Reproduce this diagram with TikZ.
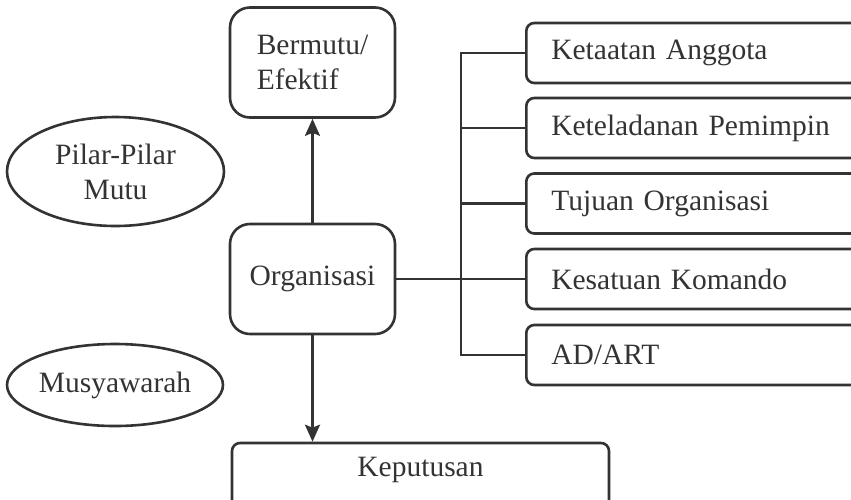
\documentclass[tikz,border=0pt]{standalone}
\usepackage{fontspec}
\setmainfont{Liberation Serif}
\usetikzlibrary{arrows.meta,shapes.geometric}
\definecolor{ink}{HTML}{333333}
\tikzset{
    > = {Stealth[length=17pt, width=15pt, inset=3pt]},
    txt/.style = {text=ink, font=\fontsize{29.5}{35}\selectfont},
    box/.style = {draw=ink, line width=2.6pt, rounded corners=8pt, txt},
    bigbox/.style = {box, rounded corners=20pt, minimum width=165pt, minimum height=110pt, align=left},
    item/.style = {box, anchor=west, text width=290pt, inner xsep=25pt, align=left, minimum height=60pt},
    oval/.style = {ellipse, draw=ink, line width=2.6pt, txt, inner sep=0pt, align=center},
    link/.style = {draw=ink, line width=2.6pt}
}
\begin{document}
\begin{tikzpicture}[x=1pt, y=-1pt]
    \useasboundingbox (0,0) rectangle (851,499);

    \node[bigbox] (mutu) at (312.5, 62.5) {Bermutu/\\Efektif};
    \node[bigbox] (org) at (312.5, 279) {Organisasi};
    % box runs past the lower edge of the page
    \node[box, minimum width=377pt, minimum height=70pt, text depth=22.5pt] (kep) at (420.5, 478) {Keputusan};

    \node[oval, minimum width=217pt, minimum height=109pt] (pilar) at (115.5, 171.5) {Pilar-Pilar\\Mutu};
    \node[oval, minimum width=216pt, minimum height=82pt] (musy) at (115, 385) {Musyawarah};

    \node[item] (taat) at (525, 53) {Ketaatan Anggota};
    \node[item] (teladan) at (525, 128) {Keteladanan Pemimpin};
    \node[item] (tujuan) at (525, 203.5) {Tujuan Organisasi};
    \node[item] (kes) at (525, 279) {Kesatuan Komando};
    \node[item] (adart) at (525, 355) {AD/ART};

    \coordinate (spine) at (461, 0);

    \draw[link, ->] (org) -- (mutu);
    \draw[link, ->] (org.south) -- (org.south |- kep.north);
    \draw[link] (org) -- (kes);
    \draw[link] (taat.west) -- (taat.west -| spine) -- (adart.west -| spine) -- (adart.west);
    \draw[link] (teladan.west) -- (teladan.west -| spine);
    \draw[link] (tujuan.west) -- (tujuan.west -| spine);
\end{tikzpicture}
\end{document}
